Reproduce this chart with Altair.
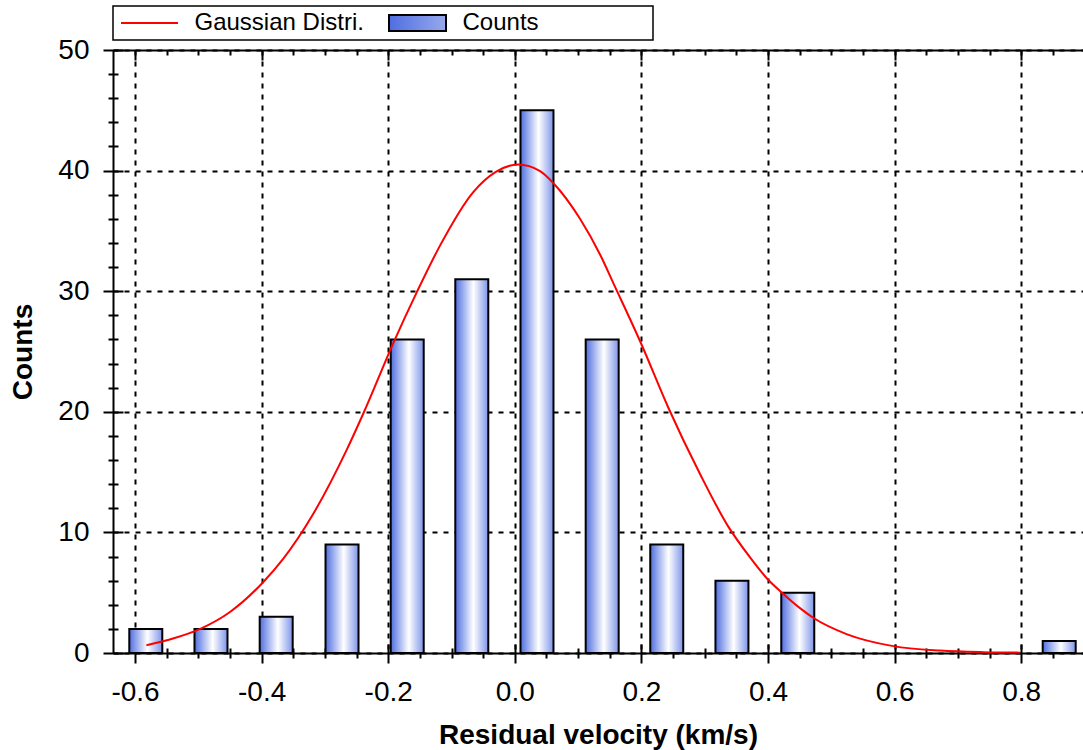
import altair as alt
import pandas as pd

# ---------------- data ----------------
bin_centers = [-0.583, -0.480, -0.377, -0.273, -0.170, -0.068, 0.035, 0.138, 0.240, 0.343, 0.447, 0.860]
counts = [2, 2, 3, 9, 26, 31, 45, 26, 9, 6, 5, 1]

curve_x = [-0.582, -0.54, -0.497, -0.45, -0.398, -0.366, -0.32, -0.266, -0.239, -0.192,
           -0.155, -0.118, -0.066, -0.03, 0.005, 0.04, 0.061, 0.103, 0.135, 0.158,
           0.200, 0.242, 0.293, 0.337, 0.372, 0.398, 0.422, 0.451, 0.472, 0.524,
           0.598, 0.672, 0.74, 0.798]
curve_y = [0.65, 1.2, 2.0, 3.4, 5.85, 7.8, 11.4, 16.8, 19.9, 25.7,
           29.9, 33.8, 38.2, 39.9, 40.5, 39.95, 38.95, 36.0, 33.0, 30.4,
           25.6, 20.4, 14.8, 10.5, 7.9, 6.2, 5.0, 3.7, 2.9, 1.57,
           0.57, 0.2, 0.07, 0.03]

series_names = ["Gaussian Distri.", "Counts"]

x_major = [-0.6, -0.4, -0.2, 0.0, 0.2, 0.4, 0.6, 0.8]
x_minor = [-0.55, -0.5, -0.45, -0.35, -0.3, -0.25, -0.15, -0.1, -0.05, 0.05, 0.1, 0.15,
           0.25, 0.3, 0.35, 0.45, 0.5, 0.55, 0.65, 0.7, 0.75, 0.85]
y_major = [0, 10, 20, 30, 40, 50]
y_minor = [2, 4, 6, 8, 12, 14, 16, 18, 22, 24, 26, 28, 32, 34, 36, 38, 42, 44, 46, 48]

bar_df = pd.DataFrame({"center": bin_centers, "count": counts})
curve_df = pd.DataFrame({"vx": curve_x, "vy": curve_y})
legend_df = pd.DataFrame({"series": series_names, "xv": [0.0, 0.0], "yv": [0.0, 0.0]})

# ---------------- styling ----------------
FONT = "Liberation Sans"
W, H = 970, 603
LW = 2
xscale = alt.Scale(domain=[-0.6348, 0.8976], nice=False, zero=False, padding=0)
yscale = alt.Scale(domain=[0, 50], nice=False, padding=0)

grad = {
    "gradient": "linear", "x1": 0, "x2": 1, "y1": 0, "y2": 0,
    "stops": [
        {"offset": 0, "color": "#4f6ee0"},
        {"offset": 0.55, "color": "#ffffff"},
        {"offset": 1, "color": "#7e95ea"},
    ],
}


def axis(orient, values, size, offset=None, labels=False, grid=False, domain=False, **kw):
    p = dict(orient=orient, values=values, tickSize=size, tickWidth=LW, tickColor="black",
             labels=labels, grid=grid, domain=domain, domainColor="black", domainWidth=LW,
             title=None, ticks=True)
    if offset is not None:
        p["offset"] = offset
    p.update(kw)
    return alt.Axis(**p)


label_expr = "datum.value < 0 ? '-' + format(-datum.value, '.1f') : format(datum.value, '.1f')"

ax_x_main = axis("bottom", x_major, 10, labels=True, grid=True, domain=True,
                 labelExpr=label_expr, labelFont=FONT, labelFontSize=28, labelColor="black",
                 labelPadding=15, labelFlush=False, labelOverlap=False,
                 title="Residual velocity (km/s)", titleFont=FONT, titleFontSize=28,
                 titleFontWeight="bold", titleColor="black", titlePadding=15,
                 gridDash=[5, 6], gridColor="black", gridWidth=LW, gridOpacity=1)
ax_y_main = axis("left", y_major, 10, labels=True, grid=True, domain=True,
                 format="d", labelFont=FONT, labelFontSize=28, labelColor="black",
                 labelPadding=14, labelFlush=False, labelOverlap=False,
                 title="Counts", titleFont=FONT, titleFontSize=28,
                 titleFontWeight="bold", titleColor="black", titlePadding=20,
                 gridDash=[5, 6], gridColor="black", gridWidth=LW, gridOpacity=1)

legend_cfg = alt.Legend(title=None, orient="none", legendX=0, legendY=-44,
                        direction="horizontal", fillColor="white", strokeColor="black",
                        padding=5, symbolSize=100, symbolStrokeWidth=2,
                        symbolOffset=19.5, labelOffset=33, labelFont=FONT,
                        labelFontSize=24, labelColor="black", labelLimit=600,
                        columnPadding=21)

# legend symbols: a short red stroke, and a wide bar swatch (the trailing zero-length
# segment only widens the legend frame to the reference's width)
line_path = "M-5.7,0H5.7"
rect_path = "M-5.7,-1.6H5.7V1.6H-5.7Z M45.3,0h0"

# ---------------- layers ----------------
bars = alt.Chart(bar_df).mark_bar(
    orient="vertical", size=33, fill=grad, stroke="black", strokeWidth=LW
).encode(
    x=alt.X("center:Q", scale=xscale, axis=ax_x_main),
    y=alt.Y("count:Q", scale=yscale, axis=ax_y_main),
)

curve = alt.Chart(curve_df).mark_line(
    color="red", strokeWidth=2, interpolate="monotone"
).encode(
    x=alt.X("vx:Q", scale=xscale, axis=axis("bottom", x_minor, 5)),
    y=alt.Y("vy:Q", scale=yscale, axis=axis("left", y_minor, 5)),
)

base = alt.Chart(legend_df).transform_filter("false")

# inward ticks at bottom and left edges (major) + legend
d1 = base.mark_point(filled=True, fill=grad, opacity=1, strokeWidth=2).encode(
    x=alt.X("xv:Q", scale=xscale, axis=axis("top", x_major, 9, offset=-H)),
    y=alt.Y("yv:Q", scale=yscale, axis=axis("right", y_major, 10, offset=-W)),
    stroke=alt.Stroke("series:N", scale=alt.Scale(domain=series_names, range=["red", "black"]),
                      legend=legend_cfg),
    shape=alt.Shape("series:N", scale=alt.Scale(domain=series_names, range=[line_path, rect_path]),
                    legend=legend_cfg),
)

# inward ticks at bottom and left edges (minor)
d2 = base.mark_point(opacity=0).encode(
    x=alt.X("xv:Q", scale=xscale, axis=axis("top", x_minor, 5, offset=-H)),
    y=alt.Y("yv:Q", scale=yscale, axis=axis("right", y_minor, 5, offset=-W)),
)

# top frame line with inward ticks
d3 = base.mark_point(opacity=0).encode(
    x=alt.X("xv:Q", scale=xscale, axis=axis("bottom", x_major, 10, offset=-H, domain=True)),
    y=alt.Y("yv:Q", scale=yscale, axis=None),
)
d4 = base.mark_point(opacity=0).encode(
    x=alt.X("xv:Q", scale=xscale, axis=axis("bottom", x_minor, 5, offset=-H)),
    y=alt.Y("yv:Q", scale=yscale, axis=None),
)

chart = alt.layer(bars, curve, d1, d2, d3, d4).resolve_axis(
    x="independent", y="independent"
).properties(
    width=W, height=H,
    autosize=alt.AutoSizeParams(type="none"),
    padding={"left": 113, "top": 50, "right": 0, "bottom": 97},
    background="white",
).configure_view(stroke=None).configure_legend(strokeWidth=1.5)

chart.save("out.html", embed_options={"renderer": "svg", "actions": False})
